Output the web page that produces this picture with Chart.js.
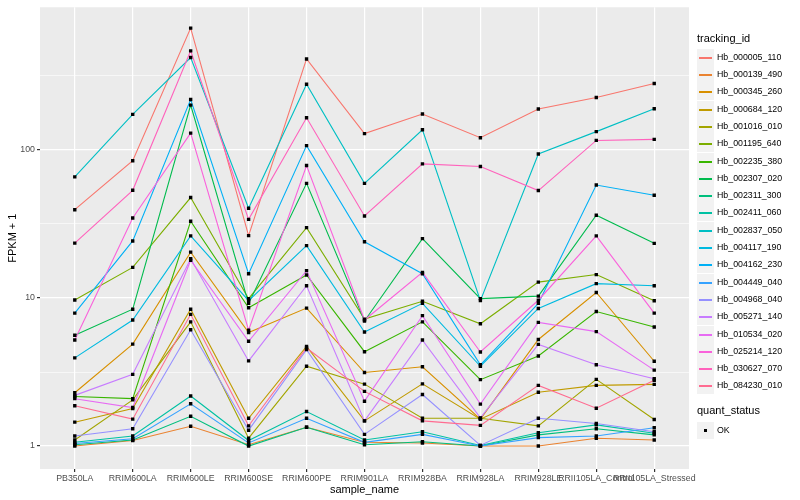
<!DOCTYPE html>
<html>
<head>
<meta charset="utf-8">
<script src="https://cdn.jsdelivr.net/npm/chart.js@4.4.1/dist/chart.umd.min.js"></script>
<style>
  body { margin: 0; background: #fff; font-family: "Liberation Sans", Arial, sans-serif; }
  #wrap { position: relative; width: 800px; height: 500px; }
  #legend { position: absolute; left: 697px; top: 0; font-size: 8.8px; color: #000; }
  .ttl { position: absolute; left: 0; font-size: 11px; white-space: nowrap; }
  .row { position: absolute; left: 0; height: 17px; white-space: nowrap; }
  .key { position: absolute; left: 0; top: 0; width: 17px; height: 17px; background: #F2F2F2; }
  .key i { position: absolute; left: 2px; top: 7.5px; width: 13px; height: 2px; }
  .key b { position: absolute; left: 7px; top: 7px; width: 3px; height: 3px; background: #000; }
  .lab { position: absolute; left: 20px; top: 3px; line-height: 11px; }
</style>
</head>
<body>
<div id="wrap">
  <canvas id="myChart" width="800" height="500"></canvas>
  <div id="legend"></div>
</div>
<script>
var categories = ['PB350LA', 'RRIM600LA', 'RRIM600LE', 'RRIM600SE', 'RRIM600PE', 'RRIM901LA',
    'RRIM928BA', 'RRIM928LA', 'RRIM928LE', 'RRII105LA_Control', 'RRII105LA_Stressed'];

var tracking_ids = ['Hb_000005_110', 'Hb_000139_490', 'Hb_000345_260', 'Hb_000684_120', 'Hb_001016_010',
    'Hb_001195_640', 'Hb_002235_380', 'Hb_002307_020', 'Hb_002311_300', 'Hb_002411_060',
    'Hb_002837_050', 'Hb_004117_190', 'Hb_004162_230', 'Hb_004449_040', 'Hb_004968_040',
    'Hb_005271_140', 'Hb_010534_020', 'Hb_025214_120', 'Hb_030627_070', 'Hb_084230_010'];

// FPKM + 1, one array per gene, same order as categories
var hb_000005_110 = [39.5, 84.6, 665, 26.4, 412, 129, 175, 121, 189, 226, 281];
var hb_000139_490 = [1.0, 1.09, 1.36, 1.02, 1.34, 1.06, 1.05, 1.0, 1.0, 1.13, 1.1];
var hb_000345_260 = [2.29, 4.88, 20.4, 5.85, 8.55, 3.14, 3.43, 1.52, 5.25, 10.9, 3.74];
var hb_000684_120 = [1.45, 1.79, 8.4, 1.54, 4.71, 1.48, 2.63, 1.52, 2.31, 2.57, 2.61];
var hb_001016_010 = [1.1, 2.05, 6.9, 1.13, 3.46, 2.62, 1.54, 1.54, 1.37, 2.82, 1.51];
var hb_001195_640 = [9.7, 16.1, 47.7, 9.9, 29.9, 7.2, 9.5, 6.7, 12.8, 14.4, 9.58];
var hb_002235_380 = [2.16, 2.09, 33, 8.6, 14.3, 4.34, 6.9, 2.81, 4.06, 8.1, 6.37];
var hb_002307_020 = [5.6, 8.4, 201, 9.2, 59.5, 7.0, 25.2, 9.9, 10.3, 36.2, 23.4];
var hb_002311_300 = [1.02, 1.1, 1.59, 1.0, 1.34, 1.02, 1.07, 1.0, 1.19, 1.31, 1.19];
var hb_002411_060 = [1.06, 1.17, 2.18, 1.09, 1.71, 1.1, 1.25, 1.01, 1.23, 1.39, 1.22];
var hb_002837_050 = [65.8, 174, 421, 40.4, 278, 59.5, 137, 9.6, 94, 133, 190];
var hb_004117_190 = [3.94, 7.1, 26.3, 9.6, 22.6, 5.9, 9.2, 3.46, 8.5, 12.5, 12.1];
var hb_004162_230 = [7.9, 24.3, 219, 14.6, 107, 24, 14.6, 3.54, 9.2, 58, 49.5];
var hb_004449_040 = [1.04, 1.12, 1.93, 1.05, 1.54, 1.06, 1.2, 1.0, 1.14, 1.17, 1.33];
var hb_004968_040 = [1.17, 1.31, 6.1, 1.28, 4.48, 1.2, 2.23, 1.01, 1.54, 1.42, 1.25];
var hb_005271_140 = [2.2, 3.05, 18.4, 3.76, 12.1, 1.48, 5.2, 1.55, 4.86, 3.54, 2.85];
var hb_010534_020 = [2.09, 1.82, 18.0, 5.1, 15.3, 2.01, 7.6, 1.92, 6.85, 5.93, 3.26];
var hb_025214_120 = [5.2, 34.7, 130, 6.06, 78.5, 7.1, 14.9, 4.32, 9.66, 26.3, 7.9];
var hb_030627_070 = [23.5, 53.4, 467, 34, 165, 35.8, 80.6, 77.3, 53.2, 116, 118];
var hb_084230_010 = [1.87, 1.52, 7.76, 1.37, 4.6, 2.34, 1.48, 1.38, 2.57, 1.8, 2.78];

var series = [hb_000005_110, hb_000139_490, hb_000345_260, hb_000684_120, hb_001016_010,
    hb_001195_640, hb_002235_380, hb_002307_020, hb_002311_300, hb_002411_060,
    hb_002837_050, hb_004117_190, hb_004162_230, hb_004449_040, hb_004968_040,
    hb_005271_140, hb_010534_020, hb_025214_120, hb_030627_070, hb_084230_010];

// ggplot default hue palette for 20 groups
var colors = ['#F8766D', '#EA8331', '#D89000', '#C09B00', '#A3A500', '#7CAE00', '#39B600', '#00BB4E',
    '#00BF7D', '#00C1A3', '#00BFC4', '#00BAE0', '#00B0F6', '#35A2FF', '#9590FF', '#C77CFF',
    '#E76BF3', '#FA62DB', '#FF62BC', '#FF6C91'];

var yMajor = [1, 10, 100];
var yMinor = [3.1623, 31.623, 316.23];
var quant_status = ['OK'];

var datasets = [];
var allPoints = [];
for (var i = 0; i < series.length; i++) {
    var pts = [];
    for (var j = 0; j < categories.length; j++) {
        pts.push({x: j, y: series[i][j]});
        allPoints.push({x: j, y: series[i][j]});
    }
    datasets.push({
        label: tracking_ids[i],
        data: pts,
        borderColor: colors[i],
        borderWidth: 1.1,
        pointRadius: 0,
        fill: false,
        tension: 0,
        order: series.length - i
    });
}
datasets.push({
    label: quant_status[0],
    data: allPoints,
    showLine: false,
    pointStyle: 'rect',
    pointRadius: 2.4,
    pointBorderWidth: 0,
    pointBackgroundColor: '#000',
    borderColor: '#000',
    order: -1
});

var panelBg = {
    id: 'panelBg',
    beforeDraw: function(chart) {
        var a = chart.chartArea;
        chart.ctx.save();
        chart.ctx.fillStyle = '#EBEBEB';
        chart.ctx.fillRect(a.left, a.top, a.right - a.left, a.bottom - a.top);
        chart.ctx.restore();
    }
};

var font = '"Liberation Sans", Arial, sans-serif';
var ctx = document.getElementById('myChart').getContext('2d');
var chart = new Chart(ctx, {
    type: 'line',
    data: {datasets: datasets},
    options: {
        responsive: false,
        animation: false,
        events: [],
        layout: {padding: {top: 4, right: 111, left: 0, bottom: 0}},
        plugins: {legend: {display: false}, tooltip: {enabled: false}},
        scales: {
            x: {
                type: 'linear',
                min: -0.6,
                max: categories.length - 0.4,
                afterBuildTicks: function(scale) {
                    scale.ticks = categories.map(function(c, k) { return {value: k}; });
                },
                afterFit: function(scale) { scale.height = 31; },
                ticks: {
                    autoSkip: false, maxRotation: 0, minRotation: 0, padding: 1,
                    color: '#4D4D4D', font: {family: font, size: 8.8},
                    callback: function(v) { return categories[v]; }
                },
                grid: {color: '#FFFFFF', lineWidth: 1.2, tickLength: 3, tickColor: '#333333'},
                border: {display: false},
                title: {display: true, text: 'sample_name', color: '#000', font: {family: font, size: 11},
                        padding: {top: 0, bottom: 3}}
            },
            y: {
                type: 'logarithmic',
                min: 0.723,
                max: 920,
                afterBuildTicks: function(scale) {
                    scale.ticks = yMajor.concat(yMinor).sort(function(a, b) { return a - b; })
                        .map(function(v) { return {value: v}; });
                },
                afterFit: function(scale) { scale.width = 40; },
                ticks: {
                    padding: 2, color: '#4D4D4D', font: {family: font, size: 8.8},
                    callback: function(v) { return yMajor.indexOf(v) >= 0 ? String(v) : ''; }
                },
                grid: {
                    color: '#FFFFFF',
                    lineWidth: function(c) { return yMajor.indexOf(c.tick.value) >= 0 ? 1.2 : 0.6; },
                    tickLength: 3,
                    tickColor: function(c) { return yMajor.indexOf(c.tick.value) >= 0 ? '#333333' : 'rgba(0,0,0,0)'; }
                },
                border: {display: false},
                title: {display: true, text: 'FPKM + 1', color: '#000', font: {family: font, size: 11},
                        padding: {top: 6, bottom: 0}}
            }
        }
    },
    plugins: [panelBg]
});

// ggplot style legend on the right
var lg = document.getElementById('legend');
var html = '<div class="ttl" style="top:32px">tracking_id</div>';
for (var k = 0; k < tracking_ids.length; k++) {
    var rowTop = Math.round(48.7 + k * 17.3);
    html += '<div class="row" style="top:' + rowTop + 'px"><div class="key"><i style="background:' + colors[k] +
        '"></i></div><span class="lab">' + tracking_ids[k] + '</span></div>';
}
html += '<div class="ttl" style="top:404px">quant_status</div>';
html += '<div class="row" style="top:422px"><div class="key"><b></b></div><span class="lab">' + quant_status[0] + '</span></div>';
lg.innerHTML = html;
</script>
</body>
</html>
